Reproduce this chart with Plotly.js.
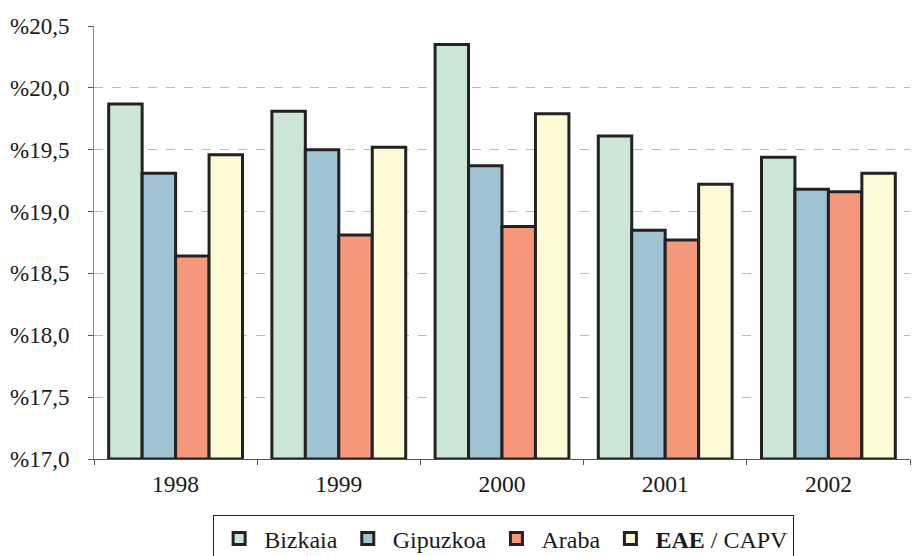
<!DOCTYPE html>
<html><head><meta charset="utf-8">
<script src="https://cdn.plot.ly/plotly-3.0.1.min.js"></script>
<style>body{margin:0;padding:0;background:#fff}#c{width:912px;height:556px}</style>
</head><body><div id="c"></div>
<script>
const years = ['1998','1999','2000','2001','2002'];
const bizkaia = [19.87, 19.81, 20.35, 19.61, 19.44];
const gipuzkoa = [19.31, 19.50, 19.37, 18.85, 19.18];
const araba = [18.64, 18.81, 18.88, 18.77, 19.16];
const eae = [19.46, 19.52, 19.79, 19.22, 19.31];
const seriesNames = ['Bizkaia','Gipuzkoa','Araba','<b>EAE</b> / CAPV'];
const tickVals = [17.0,17.5,18.0,18.5,19.0,19.5,20.0,20.5];
const tickText = ['%17,0','%17,5','%18,0','%18,5','%19,0','%19,5','%20,0','%20,5'];
const colors = ['#cce6d5','#9fc3d3','#f4977a','#fffad6'];
const series = [bizkaia, gipuzkoa, araba, eae];
const data = series.map((v,i)=>({
  type:'bar', x: years, y: v.map(val=>val-17), base: 17, name: seriesNames[i],
  marker:{color: colors[i], line:{color:'#222', width:3}}
}));
const layout = {
  width:912, height:556,
  margin:{l:94, r:2, t:26, b:97, autoexpand:false},
  paper_bgcolor:'#fff', plot_bgcolor:'#fff',
  barmode:'group', bargap:0.18, bargroupgap:0,
  font:{family:'Liberation Serif, Times New Roman, serif', color:'#1a1a1a'},
  xaxis:{type:'category', showline:true, linecolor:'#555', linewidth:1, automargin:false,
    ticks:'outside', tickson:'boundaries', ticklen:5, tickcolor:'#555',
    ticklabelstandoff:4,
    tickfont:{size:23.5, family:'Liberation Serif', color:'#1a1a1a'}, showgrid:false, zeroline:false},
  yaxis:{range:[17,20.5], tickvals:tickVals, ticktext:tickText, automargin:false,
    showline:true, linecolor:'#888', linewidth:1, ticks:'outside', ticklen:5, tickcolor:'#555',
    ticklabelstandoff:14,
    tickfont:{size:23, family:'Liberation Serif', color:'#1a1a1a'},
    showgrid:true, gridcolor:'#bbb', griddash:'dash', gridwidth:1, zeroline:false},
  showlegend:true,
  legend:{orientation:'h', x:0.502, xanchor:'center', y:-0.13, yanchor:'top',
    bordercolor:'#222', borderwidth:1, font:{size:24, family:'Liberation Serif', color:'#1a1a1a'},
    itemwidth:40, traceorder:'normal'}
};
Plotly.newPlot('c', data, layout, {displayModeBar:false, staticPlot:true});
</script></body></html>
